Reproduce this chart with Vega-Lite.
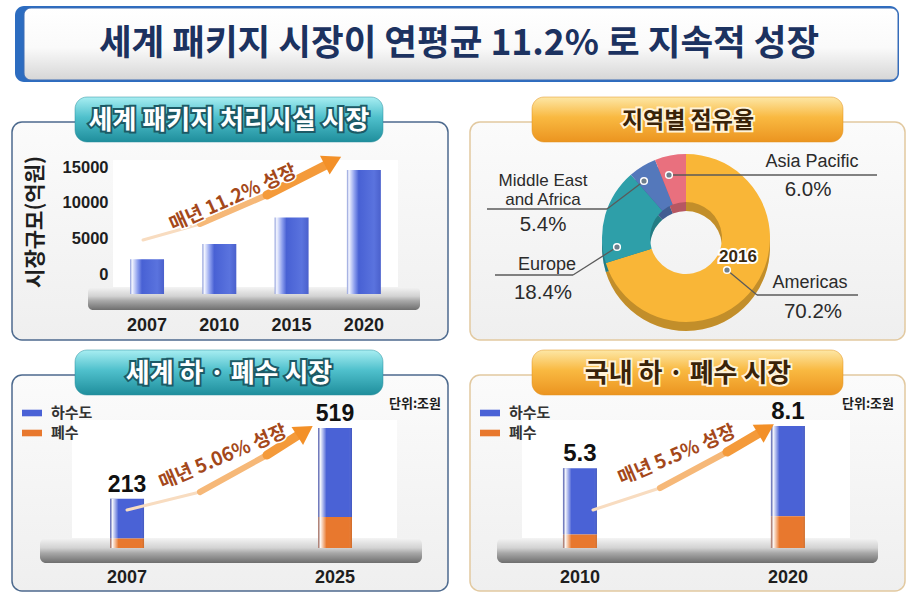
{
"$schema":"https://vega.github.io/schema/vega-lite/v6.json",
"padding":0,
"spacing":0,
"background":"#ffffff",
"config":{"view":{"stroke":null},"concat":{"spacing":0}},
"resolve":{"scale":{"color":"independent"},"legend":{"color":"independent"}},
"datasets":{
 "packaged":[{"year":"2007","market":2200},{"year":"2010","market":4300},{"year":"2015","market":8000},{"year":"2020","market":14600}],
 "regions":[{"region":"Americas","share":0.702},{"region":"Europe","share":0.184},{"region":"Middle East and Africa","share":0.054},{"region":"Asia Pacific","share":0.06}],
 "globalWater":[{"year":"2007","type":"하수도","value":172},{"year":"2007","type":"폐수","value":41},{"year":"2025","type":"하수도","value":385},{"year":"2025","type":"폐수","value":134}],
 "domesticWater":[{"year":"2010","type":"하수도","value":4.4},{"year":"2010","type":"폐수","value":0.9},{"year":"2020","type":"하수도","value":6.0},{"year":"2020","type":"폐수","value":2.1}]
},
"vconcat":[
 {
  "width":918,"height":92,
  "data":{"values":[{}]},
  "layer":[
   {"mark":{"type":"rect","cornerRadius":9,"fill":"#2c6cc0"},"encoding":{"x":{"datum":15,"type":"quantitative","scale":{"domain":[0,918],"nice":false,"zero":false},"axis":null},"x2":{"datum":899},"y":{"datum":6,"type":"quantitative","scale":{"domain":[0,92],"reverse":true,"nice":false,"zero":false},"axis":null},"y2":{"datum":82}}},
   {"mark":{"type":"rect","cornerRadius":7,"stroke":"#3d6db5","strokeWidth":1,"fill":{"gradient":"linear","x1":0,"y1":0,"x2":0,"y2":1,"stops":[{"offset":0,"color":"#ffffff"},{"offset":0.55,"color":"#fafafa"},{"offset":1,"color":"#d6d6d6"}]}},"encoding":{"x":{"datum":24,"type":"quantitative","scale":{"domain":[0,918],"nice":false,"zero":false},"axis":null},"x2":{"datum":898},"y":{"datum":8,"type":"quantitative","scale":{"domain":[0,92],"reverse":true,"nice":false,"zero":false},"axis":null},"y2":{"datum":80}}},
   {"mark":{"type":"text","font":"Noto Sans CJK KR","fontSize":35.5,"fontWeight":"bold","color":"#1c3260","align":"center","baseline":"middle"},"encoding":{"x":{"datum":459,"type":"quantitative","scale":{"domain":[0,918],"nice":false,"zero":false},"axis":null},"y":{"datum":44,"type":"quantitative","scale":{"domain":[0,92],"reverse":true,"nice":false,"zero":false},"axis":null},"text":{"value":"세계 패키지 시장이 연평균 11.2% 로 지속적 성장"}}}
  ]
 },
 {
  "resolve":{"scale":{"color":"independent"},"legend":{"color":"independent"}},
  "hconcat":[
   {
    "width":459,"height":250,
    "layer":[
     {"data":{"values":[{}]},"layer":[
      {"mark":{"type":"rect","cornerRadius":10,"stroke":"#4d6a8e","strokeWidth":1.5,"fill":{"gradient":"linear","x1":0,"y1":0,"x2":0,"y2":1,"stops":[{"offset":0,"color":"#fbfbfb"},{"offset":1,"color":"#efefef"}]}},"encoding":{"x":{"datum":12,"type":"quantitative","scale":{"domain":[0,459],"nice":false,"zero":false},"axis":null},"x2":{"datum":448},"y":{"datum":30,"type":"quantitative","scale":{"domain":[0,250],"reverse":true,"nice":false,"zero":false},"axis":null},"y2":{"datum":248}}},
      {"mark":{"type":"rect","cornerRadius":12,"stroke":"#2a8f9c","strokeWidth":0.5,"fill":{"gradient":"linear","x1":0,"y1":0,"x2":0,"y2":1,"stops":[{"offset":0,"color":"#a8eef2"},{"offset":0.45,"color":"#4fc0cc"},{"offset":1,"color":"#1f8e9c"}]}},"encoding":{"x":{"datum":75,"type":"quantitative","scale":{"domain":[0,459],"nice":false,"zero":false},"axis":null},"x2":{"datum":383},"y":{"datum":5,"type":"quantitative","scale":{"domain":[0,250],"reverse":true,"nice":false,"zero":false},"axis":null},"y2":{"datum":50}}},
      {"mark":{"type":"text","font":"Noto Sans CJK KR","fontSize":26,"fontWeight":"bold","color":"#1c5a66","stroke":"#1c5a66","strokeWidth":4,"align":"center","baseline":"middle"},"encoding":{"x":{"datum":229,"type":"quantitative","scale":{"domain":[0,459],"nice":false,"zero":false},"axis":null},"y":{"datum":29,"type":"quantitative","scale":{"domain":[0,250],"reverse":true,"nice":false,"zero":false},"axis":null},"text":{"value":"세계 패키지 처리시설 시장"}}},
      {"mark":{"type":"text","font":"Noto Sans CJK KR","fontSize":26,"fontWeight":"bold","color":"#ffffff","align":"center","baseline":"middle"},"encoding":{"x":{"datum":229,"type":"quantitative","scale":{"domain":[0,459],"nice":false,"zero":false},"axis":null},"y":{"datum":29,"type":"quantitative","scale":{"domain":[0,250],"reverse":true,"nice":false,"zero":false},"axis":null},"text":{"value":"세계 패키지 처리시설 시장"}}},
      {"mark":{"type":"rect","fill":"#ffffff"},"encoding":{"x":{"datum":113,"type":"quantitative","scale":{"domain":[0,459],"nice":false,"zero":false},"axis":null},"x2":{"datum":398},"y":{"datum":68,"type":"quantitative","scale":{"domain":[0,250],"reverse":true,"nice":false,"zero":false},"axis":null},"y2":{"datum":203}}},
      {"mark":{"type":"rect","cornerRadius":5,"fill":{"gradient":"linear","x1":0,"y1":0,"x2":0,"y2":1,"stops":[{"offset":0,"color":"#f4f4f4"},{"offset":0.4,"color":"#d2d2d2"},{"offset":0.6,"color":"#a8a8a8"},{"offset":1,"color":"#6e6e6e"}]}},"encoding":{"x":{"datum":88,"type":"quantitative","scale":{"domain":[0,459],"nice":false,"zero":false},"axis":null},"x2":{"datum":420},"y":{"datum":195,"type":"quantitative","scale":{"domain":[0,250],"reverse":true,"nice":false,"zero":false},"axis":null},"y2":{"datum":218}}},
      {"mark":{"type":"text","font":"Noto Sans CJK KR","fontSize":21,"fontWeight":"bold","color":"#1e1e1e","angle":270,"align":"center","baseline":"middle"},"encoding":{"x":{"datum":36,"type":"quantitative","scale":{"domain":[0,459],"nice":false,"zero":false},"axis":null},"y":{"datum":130,"type":"quantitative","scale":{"domain":[0,250],"reverse":true,"nice":false,"zero":false},"axis":null},"text":{"value":"시장규모(억원)"}}}
     ]},
     {"data":{"name":"packaged"},
      "mark":{"type":"bar","fill":{"gradient":"linear","x1":0,"y1":0,"x2":1,"y2":0,"stops":[{"offset":0,"color":"#8797d8"},{"offset":0.06,"color":"#f4f6ff"},{"offset":0.22,"color":"#8ea0ee"},{"offset":0.35,"color":"#4861d4"},{"offset":0.8,"color":"#5a73de"},{"offset":1,"color":"#4a60cc"}]}},
      "encoding":{
       "x":{"field":"year","type":"ordinal","scale":{"range":[95,400],"paddingInner":0.53,"paddingOuter":0.375,"align":0.647},"axis":{"orient":"bottom","offset":-28,"zindex":1,"labelPadding":2,"domain":false,"ticks":false,"grid":false,"labelAngle":0,"labelFont":"Liberation Sans","labelFontSize":18,"labelFontWeight":"bold","labelColor":"#1e1e1e","title":null}},
       "y":{"field":"market","type":"quantitative","scale":{"domain":[-9306,25417],"nice":false,"zero":false},"axis":{"orient":"left","offset":-111,"zindex":1,"values":[0,5000,10000,15000],"format":"d","domain":false,"ticks":false,"grid":false,"labelPadding":3,"labelFont":"Liberation Sans","labelFontSize":16.5,"labelFontWeight":"bold","labelColor":"#1e1e1e","title":null}},
       "y2":{"datum":-2640}
      }
     },
     {"data":{"values":[{}]},"layer":[
      {"mark":{"type":"rule","color":"#f8dcc0","strokeWidth":3,"strokeCap":"round"},"encoding":{"x":{"datum":143,"type":"quantitative","scale":{"domain":[0,459],"nice":false,"zero":false},"axis":null},"y":{"datum":148,"type":"quantitative","scale":{"domain":[0,250],"reverse":true,"nice":false,"zero":false},"axis":null},"x2":{"datum":200},"y2":{"datum":132}}},
      {"mark":{"type":"rule","color":"#f6b878","strokeWidth":6,"strokeCap":"round"},"encoding":{"x":{"datum":200,"type":"quantitative","scale":{"domain":[0,459],"nice":false,"zero":false},"axis":null},"y":{"datum":132,"type":"quantitative","scale":{"domain":[0,250],"reverse":true,"nice":false,"zero":false},"axis":null},"x2":{"datum":267},"y2":{"datum":103}}},
      {"mark":{"type":"rule","color":"#f49a3a","strokeWidth":9,"strokeCap":"round"},"encoding":{"x":{"datum":267,"type":"quantitative","scale":{"domain":[0,459],"nice":false,"zero":false},"axis":null},"y":{"datum":103,"type":"quantitative","scale":{"domain":[0,250],"reverse":true,"nice":false,"zero":false},"axis":null},"x2":{"datum":328},"y2":{"datum":72}}},
      {"mark":{"type":"point","shape":"triangle-up","size":450,"filled":true,"color":"#f39028","opacity":1,"angle":63},"encoding":{"x":{"datum":333,"type":"quantitative","scale":{"domain":[0,459],"nice":false,"zero":false},"axis":null},"y":{"datum":69,"type":"quantitative","scale":{"domain":[0,250],"reverse":true,"nice":false,"zero":false},"axis":null}}},
      {"mark":{"type":"text","font":"Noto Sans CJK KR","fontSize":19,"fontWeight":"bold","color":"#ffffff","stroke":"#ffffff","strokeWidth":3,"angle":-24,"align":"center","baseline":"middle"},"encoding":{"x":{"datum":233,"type":"quantitative","scale":{"domain":[0,459],"nice":false,"zero":false},"axis":null},"y":{"datum":106,"type":"quantitative","scale":{"domain":[0,250],"reverse":true,"nice":false,"zero":false},"axis":null},"text":{"value":"매년 11.2% 성장"}}},
      {"mark":{"type":"text","font":"Noto Sans CJK KR","fontSize":19,"fontWeight":"bold","color":"#a4481a","angle":-24,"align":"center","baseline":"middle"},"encoding":{"x":{"datum":233,"type":"quantitative","scale":{"domain":[0,459],"nice":false,"zero":false},"axis":null},"y":{"datum":106,"type":"quantitative","scale":{"domain":[0,250],"reverse":true,"nice":false,"zero":false},"axis":null},"text":{"value":"매년 11.2% 성장"}}}
     ]}
    ],
    "resolve":{"scale":{"x":"independent","y":"independent"}}
   },
   {
    "width":459,"height":250,
    "layer":[
     {"data":{"values":[{}]},"layer":[
      {"mark":{"type":"rect","cornerRadius":10,"stroke":"#e2c9a0","strokeWidth":1.5,"fill":{"gradient":"linear","x1":0,"y1":0,"x2":0,"y2":1,"stops":[{"offset":0,"color":"#fbfbfb"},{"offset":1,"color":"#efefef"}]}},"encoding":{"x":{"datum":11,"type":"quantitative","scale":{"domain":[0,459],"nice":false,"zero":false},"axis":null},"x2":{"datum":446},"y":{"datum":30,"type":"quantitative","scale":{"domain":[0,250],"reverse":true,"nice":false,"zero":false},"axis":null},"y2":{"datum":248}}},
      {"mark":{"type":"rect","cornerRadius":12,"stroke":"#e0901c","strokeWidth":0.5,"fill":{"gradient":"linear","x1":0,"y1":0,"x2":0,"y2":1,"stops":[{"offset":0,"color":"#fde7a6"},{"offset":0.45,"color":"#f9b941"},{"offset":1,"color":"#eb9420"}]}},"encoding":{"x":{"datum":73,"type":"quantitative","scale":{"domain":[0,459],"nice":false,"zero":false},"axis":null},"x2":{"datum":384},"y":{"datum":5,"type":"quantitative","scale":{"domain":[0,250],"reverse":true,"nice":false,"zero":false},"axis":null},"y2":{"datum":50}}},
      {"mark":{"type":"text","font":"Noto Sans CJK KR","fontSize":23,"fontWeight":"bold","color":"#ffffff","stroke":"#fff3d8","strokeWidth":4,"align":"center","baseline":"middle"},"encoding":{"x":{"datum":229,"type":"quantitative","scale":{"domain":[0,459],"nice":false,"zero":false},"axis":null},"y":{"datum":29,"type":"quantitative","scale":{"domain":[0,250],"reverse":true,"nice":false,"zero":false},"axis":null},"text":{"value":"지역별 점유율"}}},
      {"mark":{"type":"text","font":"Noto Sans CJK KR","fontSize":23,"fontWeight":"bold","color":"#3a2308","align":"center","baseline":"middle"},"encoding":{"x":{"datum":229,"type":"quantitative","scale":{"domain":[0,459],"nice":false,"zero":false},"axis":null},"y":{"datum":29,"type":"quantitative","scale":{"domain":[0,250],"reverse":true,"nice":false,"zero":false},"axis":null},"text":{"value":"지역별 점유율"}}}
     ]},
     {"data":{"name":"regions"},
      "transform":[{"window":[{"op":"row_number","as":"ord"}]}],
      "layer":[
       {"mark":{"type":"arc","outerRadius":84,"innerRadius":36,"yOffset":9},"encoding":{"x":{"datum":227,"type":"quantitative","scale":{"domain":[0,459],"nice":false,"zero":false},"axis":null},"y":{"datum":146,"type":"quantitative","scale":{"domain":[0,250],"reverse":true,"nice":false,"zero":false},"axis":null},"theta":{"field":"share","type":"quantitative"},"order":{"field":"ord","type":"quantitative"},"color":{"field":"region","type":"nominal","scale":{"domain":["Americas","Europe","Middle East and Africa","Asia Pacific"],"range":["#f9b637","#2e9fa9","#5478bb","#e9707e"]},"legend":null}}},
       {"mark":{"type":"arc","outerRadius":84,"innerRadius":36,"yOffset":9,"fill":"#000000","opacity":0.22},"encoding":{"x":{"datum":227,"type":"quantitative","scale":{"domain":[0,459],"nice":false,"zero":false},"axis":null},"y":{"datum":146,"type":"quantitative","scale":{"domain":[0,250],"reverse":true,"nice":false,"zero":false},"axis":null},"theta":{"field":"share","type":"quantitative"},"order":{"field":"ord","type":"quantitative"}}},
       {"mark":{"type":"arc","outerRadius":84,"innerRadius":36},"encoding":{"x":{"datum":227,"type":"quantitative","scale":{"domain":[0,459],"nice":false,"zero":false},"axis":null},"y":{"datum":146,"type":"quantitative","scale":{"domain":[0,250],"reverse":true,"nice":false,"zero":false},"axis":null},"theta":{"field":"share","type":"quantitative"},"order":{"field":"ord","type":"quantitative"},"color":{"field":"region","type":"nominal","legend":null}}},
       {"transform":[{"filter":"datum.region === 'Asia Pacific'"}],"layer":[
        {"mark":{"type":"text","font":"Liberation Sans","fontSize":18,"color":"#2b2b2b","align":"center","baseline":"middle"},"encoding":{"x":{"datum":353,"type":"quantitative","scale":{"domain":[0,459],"nice":false,"zero":false},"axis":null},"y":{"datum":70,"type":"quantitative","scale":{"domain":[0,250],"reverse":true,"nice":false,"zero":false},"axis":null},"text":{"field":"region"}}},
        {"mark":{"type":"text","font":"Liberation Sans","fontSize":20.5,"color":"#2b2b2b","align":"center","baseline":"middle"},"encoding":{"x":{"datum":349,"type":"quantitative","scale":{"domain":[0,459],"nice":false,"zero":false},"axis":null},"y":{"datum":98,"type":"quantitative","scale":{"domain":[0,250],"reverse":true,"nice":false,"zero":false},"axis":null},"text":{"field":"share","type":"quantitative","format":".1%"}}}
       ]},
       {"transform":[{"filter":"datum.region === 'Middle East and Africa'"}],"layer":[
        {"mark":{"type":"text","font":"Liberation Sans","fontSize":17,"color":"#2b2b2b","align":"center","baseline":"middle","lineHeight":19},"encoding":{"x":{"datum":84,"type":"quantitative","scale":{"domain":[0,459],"nice":false,"zero":false},"axis":null},"y":{"datum":89,"type":"quantitative","scale":{"domain":[0,250],"reverse":true,"nice":false,"zero":false},"axis":null},"text":{"value":["Middle East","and Africa"]}}},
        {"mark":{"type":"text","font":"Liberation Sans","fontSize":20.5,"color":"#2b2b2b","align":"center","baseline":"middle"},"encoding":{"x":{"datum":84,"type":"quantitative","scale":{"domain":[0,459],"nice":false,"zero":false},"axis":null},"y":{"datum":133,"type":"quantitative","scale":{"domain":[0,250],"reverse":true,"nice":false,"zero":false},"axis":null},"text":{"field":"share","type":"quantitative","format":".1%"}}}
       ]},
       {"transform":[{"filter":"datum.region === 'Europe'"}],"layer":[
        {"mark":{"type":"text","font":"Liberation Sans","fontSize":18,"color":"#2b2b2b","align":"center","baseline":"middle"},"encoding":{"x":{"datum":88,"type":"quantitative","scale":{"domain":[0,459],"nice":false,"zero":false},"axis":null},"y":{"datum":173,"type":"quantitative","scale":{"domain":[0,250],"reverse":true,"nice":false,"zero":false},"axis":null},"text":{"field":"region"}}},
        {"mark":{"type":"text","font":"Liberation Sans","fontSize":20.5,"color":"#2b2b2b","align":"center","baseline":"middle"},"encoding":{"x":{"datum":84,"type":"quantitative","scale":{"domain":[0,459],"nice":false,"zero":false},"axis":null},"y":{"datum":201,"type":"quantitative","scale":{"domain":[0,250],"reverse":true,"nice":false,"zero":false},"axis":null},"text":{"field":"share","type":"quantitative","format":".1%"}}}
       ]},
       {"transform":[{"filter":"datum.region === 'Americas'"}],"layer":[
        {"mark":{"type":"text","font":"Liberation Sans","fontSize":18,"color":"#2b2b2b","align":"center","baseline":"middle"},"encoding":{"x":{"datum":351,"type":"quantitative","scale":{"domain":[0,459],"nice":false,"zero":false},"axis":null},"y":{"datum":191,"type":"quantitative","scale":{"domain":[0,250],"reverse":true,"nice":false,"zero":false},"axis":null},"text":{"field":"region"}}},
        {"mark":{"type":"text","font":"Liberation Sans","fontSize":20.5,"color":"#2b2b2b","align":"center","baseline":"middle"},"encoding":{"x":{"datum":354,"type":"quantitative","scale":{"domain":[0,459],"nice":false,"zero":false},"axis":null},"y":{"datum":220,"type":"quantitative","scale":{"domain":[0,250],"reverse":true,"nice":false,"zero":false},"axis":null},"text":{"field":"share","type":"quantitative","format":".1%"}}}
       ]}
      ]
     },
     {"data":{"values":[{}]},"layer":[
      {"mark":{"type":"rule","color":"#5a5a5a","strokeWidth":1.3},"encoding":{"x":{"datum":210,"type":"quantitative","scale":{"domain":[0,459],"nice":false,"zero":false},"axis":null},"y":{"datum":83,"type":"quantitative","scale":{"domain":[0,250],"reverse":true,"nice":false,"zero":false},"axis":null},"x2":{"datum":418},"y2":{"datum":83}}},
      {"mark":{"type":"rule","color":"#5a5a5a","strokeWidth":1.3},"encoding":{"x":{"datum":185,"type":"quantitative","scale":{"domain":[0,459],"nice":false,"zero":false},"axis":null},"y":{"datum":89,"type":"quantitative","scale":{"domain":[0,250],"reverse":true,"nice":false,"zero":false},"axis":null},"x2":{"datum":148},"y2":{"datum":117}}},
      {"mark":{"type":"rule","color":"#5a5a5a","strokeWidth":1.3},"encoding":{"x":{"datum":148,"type":"quantitative","scale":{"domain":[0,459],"nice":false,"zero":false},"axis":null},"y":{"datum":117,"type":"quantitative","scale":{"domain":[0,250],"reverse":true,"nice":false,"zero":false},"axis":null},"x2":{"datum":28},"y2":{"datum":117}}},
      {"mark":{"type":"rule","color":"#5a5a5a","strokeWidth":1.3},"encoding":{"x":{"datum":158,"type":"quantitative","scale":{"domain":[0,459],"nice":false,"zero":false},"axis":null},"y":{"datum":155,"type":"quantitative","scale":{"domain":[0,250],"reverse":true,"nice":false,"zero":false},"axis":null},"x2":{"datum":114},"y2":{"datum":183}}},
      {"mark":{"type":"rule","color":"#5a5a5a","strokeWidth":1.3},"encoding":{"x":{"datum":114,"type":"quantitative","scale":{"domain":[0,459],"nice":false,"zero":false},"axis":null},"y":{"datum":183,"type":"quantitative","scale":{"domain":[0,250],"reverse":true,"nice":false,"zero":false},"axis":null},"x2":{"datum":36},"y2":{"datum":183}}},
      {"mark":{"type":"rule","color":"#5a5a5a","strokeWidth":1.3},"encoding":{"x":{"datum":268,"type":"quantitative","scale":{"domain":[0,459],"nice":false,"zero":false},"axis":null},"y":{"datum":178,"type":"quantitative","scale":{"domain":[0,250],"reverse":true,"nice":false,"zero":false},"axis":null},"x2":{"datum":298},"y2":{"datum":203}}},
      {"mark":{"type":"rule","color":"#5a5a5a","strokeWidth":1.3},"encoding":{"x":{"datum":298,"type":"quantitative","scale":{"domain":[0,459],"nice":false,"zero":false},"axis":null},"y":{"datum":203,"type":"quantitative","scale":{"domain":[0,250],"reverse":true,"nice":false,"zero":false},"axis":null},"x2":{"datum":399},"y2":{"datum":203}}},
      {"mark":{"type":"point","shape":"circle","size":45,"filled":true,"fill":"#6f7f8c","stroke":"#ffffff","strokeWidth":1.5,"opacity":1},"encoding":{"x":{"datum":210,"type":"quantitative","scale":{"domain":[0,459],"nice":false,"zero":false},"axis":null},"y":{"datum":83,"type":"quantitative","scale":{"domain":[0,250],"reverse":true,"nice":false,"zero":false},"axis":null}}},
      {"mark":{"type":"point","shape":"circle","size":45,"filled":true,"fill":"#6f7f8c","stroke":"#ffffff","strokeWidth":1.5,"opacity":1},"encoding":{"x":{"datum":185,"type":"quantitative","scale":{"domain":[0,459],"nice":false,"zero":false},"axis":null},"y":{"datum":89,"type":"quantitative","scale":{"domain":[0,250],"reverse":true,"nice":false,"zero":false},"axis":null}}},
      {"mark":{"type":"point","shape":"circle","size":45,"filled":true,"fill":"#6f7f8c","stroke":"#ffffff","strokeWidth":1.5,"opacity":1},"encoding":{"x":{"datum":158,"type":"quantitative","scale":{"domain":[0,459],"nice":false,"zero":false},"axis":null},"y":{"datum":155,"type":"quantitative","scale":{"domain":[0,250],"reverse":true,"nice":false,"zero":false},"axis":null}}},
      {"mark":{"type":"point","shape":"circle","size":45,"filled":true,"fill":"#6f7f8c","stroke":"#ffffff","strokeWidth":1.5,"opacity":1},"encoding":{"x":{"datum":268,"type":"quantitative","scale":{"domain":[0,459],"nice":false,"zero":false},"axis":null},"y":{"datum":178,"type":"quantitative","scale":{"domain":[0,250],"reverse":true,"nice":false,"zero":false},"axis":null}}},
      {"mark":{"type":"text","font":"Liberation Sans","fontSize":17,"fontWeight":"bold","color":"#ffffff","stroke":"#ffffff","strokeWidth":4,"align":"center","baseline":"middle"},"encoding":{"x":{"datum":279,"type":"quantitative","scale":{"domain":[0,459],"nice":false,"zero":false},"axis":null},"y":{"datum":165,"type":"quantitative","scale":{"domain":[0,250],"reverse":true,"nice":false,"zero":false},"axis":null},"text":{"value":"2016"}}},
      {"mark":{"type":"text","font":"Liberation Sans","fontSize":17,"fontWeight":"bold","color":"#3a2a10","align":"center","baseline":"middle"},"encoding":{"x":{"datum":279,"type":"quantitative","scale":{"domain":[0,459],"nice":false,"zero":false},"axis":null},"y":{"datum":165,"type":"quantitative","scale":{"domain":[0,250],"reverse":true,"nice":false,"zero":false},"axis":null},"text":{"value":"2016"}}}
     ]}
    ]
   }
  ],
  "spacing":0,
  "bounds":"flush"
 },
 {
  "resolve":{"scale":{"color":"independent"},"legend":{"color":"independent"}},
  "hconcat":[
   {
    "width":459,"height":251,
    "layer":[
     {"data":{"values":[{}]},"layer":[
      {"mark":{"type":"rect","cornerRadius":10,"stroke":"#4d6a8e","strokeWidth":1.5,"fill":{"gradient":"linear","x1":0,"y1":0,"x2":0,"y2":1,"stops":[{"offset":0,"color":"#fbfbfb"},{"offset":1,"color":"#efefef"}]}},"encoding":{"x":{"datum":12,"type":"quantitative","scale":{"domain":[0,459],"nice":false,"zero":false},"axis":null},"x2":{"datum":448},"y":{"datum":33,"type":"quantitative","scale":{"domain":[0,251],"reverse":true,"nice":false,"zero":false},"axis":null},"y2":{"datum":249}}},
      {"mark":{"type":"rect","cornerRadius":12,"stroke":"#2a8f9c","strokeWidth":0.5,"fill":{"gradient":"linear","x1":0,"y1":0,"x2":0,"y2":1,"stops":[{"offset":0,"color":"#a8eef2"},{"offset":0.45,"color":"#4fc0cc"},{"offset":1,"color":"#1f8e9c"}]}},"encoding":{"x":{"datum":75,"type":"quantitative","scale":{"domain":[0,459],"nice":false,"zero":false},"axis":null},"x2":{"datum":383},"y":{"datum":8,"type":"quantitative","scale":{"domain":[0,251],"reverse":true,"nice":false,"zero":false},"axis":null},"y2":{"datum":53}}},
      {"mark":{"type":"text","font":"Noto Sans CJK KR","fontSize":26,"fontWeight":"bold","color":"#1c5a66","stroke":"#1c5a66","strokeWidth":4,"align":"center","baseline":"middle"},"encoding":{"x":{"datum":229,"type":"quantitative","scale":{"domain":[0,459],"nice":false,"zero":false},"axis":null},"y":{"datum":32,"type":"quantitative","scale":{"domain":[0,251],"reverse":true,"nice":false,"zero":false},"axis":null},"text":{"value":"세계 하 · 폐수 시장"}}},
      {"mark":{"type":"text","font":"Noto Sans CJK KR","fontSize":26,"fontWeight":"bold","color":"#ffffff","align":"center","baseline":"middle"},"encoding":{"x":{"datum":229,"type":"quantitative","scale":{"domain":[0,459],"nice":false,"zero":false},"axis":null},"y":{"datum":32,"type":"quantitative","scale":{"domain":[0,251],"reverse":true,"nice":false,"zero":false},"axis":null},"text":{"value":"세계 하 · 폐수 시장"}}},
      {"mark":{"type":"rect","fill":"#ffffff"},"encoding":{"x":{"datum":72,"type":"quantitative","scale":{"domain":[0,459],"nice":false,"zero":false},"axis":null},"x2":{"datum":397},"y":{"datum":78,"type":"quantitative","scale":{"domain":[0,251],"reverse":true,"nice":false,"zero":false},"axis":null},"y2":{"datum":196}}},
      {"mark":{"type":"rect","cornerRadius":6,"fill":{"gradient":"linear","x1":0,"y1":0,"x2":0,"y2":1,"stops":[{"offset":0,"color":"#f4f4f4"},{"offset":0.4,"color":"#d2d2d2"},{"offset":0.6,"color":"#a8a8a8"},{"offset":1,"color":"#6e6e6e"}]}},"encoding":{"x":{"datum":40,"type":"quantitative","scale":{"domain":[0,459],"nice":false,"zero":false},"axis":null},"x2":{"datum":422},"y":{"datum":196,"type":"quantitative","scale":{"domain":[0,251],"reverse":true,"nice":false,"zero":false},"axis":null},"y2":{"datum":221}}},
      {"mark":{"type":"text","font":"Noto Sans CJK KR","fontSize":13,"fontWeight":"bold","color":"#1e1e1e","align":"center","baseline":"middle"},"encoding":{"x":{"datum":415,"type":"quantitative","scale":{"domain":[0,459],"nice":false,"zero":false},"axis":null},"y":{"datum":62,"type":"quantitative","scale":{"domain":[0,251],"reverse":true,"nice":false,"zero":false},"axis":null},"text":{"value":"단위:조원"}}}
     ]},
     {"data":{"name":"globalWater"},"layer":[
      {"mark":{"type":"bar"},"encoding":{
       "x":{"field":"year","type":"ordinal","scale":{"paddingInner":0.8365,"paddingOuter":0.5218,"align":0.507},"axis":{"orient":"bottom","offset":-27,"zindex":1,"labelPadding":2,"domain":false,"ticks":false,"grid":false,"labelAngle":0,"labelFont":"Liberation Sans","labelFontSize":18,"labelFontWeight":"bold","labelColor":"#1e1e1e","title":null}},
       "y":{"field":"value","type":"quantitative","stack":"zero","scale":{"domain":[-194.6,890.9],"nice":false,"zero":false},"axis":null},
       "color":{"field":"type","type":"nominal","scale":{"domain":["하수도","폐수"],"range":["#4a62d6","#e8782e"]},"legend":{"orient":"none","legendX":22,"legendY":61,"zindex":1,"title":null,"symbolType":"M-1,-0.33H1V0.33H-1Z","symbolSize":400,"symbolStrokeWidth":0,"labelFont":"Noto Sans CJK KR","labelFontSize":15,"labelFontWeight":"bold","labelColor":"#333333","labelOffset":9,"rowPadding":2}},
       "order":{"field":"type","sort":"ascending"}
      }},
      {"mark":{"type":"bar","fill":{"gradient":"linear","x1":0,"y1":0,"x2":1,"y2":0,"stops":[{"offset":0,"color":"rgba(110,110,150,0.5)"},{"offset":0.07,"color":"rgba(255,255,255,0.95)"},{"offset":0.25,"color":"rgba(255,255,255,0)"},{"offset":0.9,"color":"rgba(255,255,255,0)"},{"offset":1,"color":"rgba(0,0,0,0.12)"}]}},"encoding":{"x":{"field":"year","type":"ordinal"},"y":{"aggregate":"sum","field":"value","type":"quantitative"}}},
      {"mark":{"type":"text","baseline":"bottom","dy":-2,"font":"Liberation Sans","fontSize":23,"fontWeight":"bold","color":"#111111"},"encoding":{"x":{"field":"year","type":"ordinal"},"y":{"aggregate":"sum","field":"value","type":"quantitative"},"text":{"aggregate":"sum","field":"value","type":"quantitative","format":"d"}}}
     ]},
     {"data":{"values":[{}]},"layer":[
      {"mark":{"type":"rule","color":"#f8dcc0","strokeWidth":3,"strokeCap":"round"},"encoding":{"x":{"datum":127,"type":"quantitative","scale":{"domain":[0,459],"nice":false,"zero":false},"axis":null},"y":{"datum":168,"type":"quantitative","scale":{"domain":[0,251],"reverse":true,"nice":false,"zero":false},"axis":null},"x2":{"datum":200},"y2":{"datum":150}}},
      {"mark":{"type":"rule","color":"#f6b878","strokeWidth":6,"strokeCap":"round"},"encoding":{"x":{"datum":200,"type":"quantitative","scale":{"domain":[0,459],"nice":false,"zero":false},"axis":null},"y":{"datum":150,"type":"quantitative","scale":{"domain":[0,251],"reverse":true,"nice":false,"zero":false},"axis":null},"x2":{"datum":267},"y2":{"datum":113}}},
      {"mark":{"type":"rule","color":"#f49a3a","strokeWidth":9,"strokeCap":"round"},"encoding":{"x":{"datum":267,"type":"quantitative","scale":{"domain":[0,459],"nice":false,"zero":false},"axis":null},"y":{"datum":113,"type":"quantitative","scale":{"domain":[0,251],"reverse":true,"nice":false,"zero":false},"axis":null},"x2":{"datum":300},"y2":{"datum":92}}},
      {"mark":{"type":"point","shape":"triangle-up","size":450,"filled":true,"color":"#f39028","opacity":1,"angle":57},"encoding":{"x":{"datum":305,"type":"quantitative","scale":{"domain":[0,459],"nice":false,"zero":false},"axis":null},"y":{"datum":89,"type":"quantitative","scale":{"domain":[0,251],"reverse":true,"nice":false,"zero":false},"axis":null}}},
      {"mark":{"type":"text","font":"Noto Sans CJK KR","fontSize":19,"fontWeight":"bold","color":"#ffffff","stroke":"#ffffff","strokeWidth":3,"angle":-23,"align":"center","baseline":"middle"},"encoding":{"x":{"datum":223,"type":"quantitative","scale":{"domain":[0,459],"nice":false,"zero":false},"axis":null},"y":{"datum":115,"type":"quantitative","scale":{"domain":[0,251],"reverse":true,"nice":false,"zero":false},"axis":null},"text":{"value":"매년 5.06% 성장"}}},
      {"mark":{"type":"text","font":"Noto Sans CJK KR","fontSize":19,"fontWeight":"bold","color":"#a4481a","angle":-23,"align":"center","baseline":"middle"},"encoding":{"x":{"datum":223,"type":"quantitative","scale":{"domain":[0,459],"nice":false,"zero":false},"axis":null},"y":{"datum":115,"type":"quantitative","scale":{"domain":[0,251],"reverse":true,"nice":false,"zero":false},"axis":null},"text":{"value":"매년 5.06% 성장"}}}
     ]}
    ],
    "resolve":{"scale":{"x":"independent","y":"independent"}}
   },
   {
    "width":459,"height":251,
    "layer":[
     {"data":{"values":[{}]},"layer":[
      {"mark":{"type":"rect","cornerRadius":10,"stroke":"#e2c9a0","strokeWidth":1.5,"fill":{"gradient":"linear","x1":0,"y1":0,"x2":0,"y2":1,"stops":[{"offset":0,"color":"#fbfbfb"},{"offset":1,"color":"#efefef"}]}},"encoding":{"x":{"datum":11,"type":"quantitative","scale":{"domain":[0,459],"nice":false,"zero":false},"axis":null},"x2":{"datum":446},"y":{"datum":33,"type":"quantitative","scale":{"domain":[0,251],"reverse":true,"nice":false,"zero":false},"axis":null},"y2":{"datum":249}}},
      {"mark":{"type":"rect","cornerRadius":12,"stroke":"#e0901c","strokeWidth":0.5,"fill":{"gradient":"linear","x1":0,"y1":0,"x2":0,"y2":1,"stops":[{"offset":0,"color":"#fde7a6"},{"offset":0.45,"color":"#f9b941"},{"offset":1,"color":"#eb9420"}]}},"encoding":{"x":{"datum":73,"type":"quantitative","scale":{"domain":[0,459],"nice":false,"zero":false},"axis":null},"x2":{"datum":384},"y":{"datum":8,"type":"quantitative","scale":{"domain":[0,251],"reverse":true,"nice":false,"zero":false},"axis":null},"y2":{"datum":53}}},
      {"mark":{"type":"text","font":"Noto Sans CJK KR","fontSize":26,"fontWeight":"bold","color":"#ffffff","stroke":"#fff3d8","strokeWidth":4,"align":"center","baseline":"middle"},"encoding":{"x":{"datum":229,"type":"quantitative","scale":{"domain":[0,459],"nice":false,"zero":false},"axis":null},"y":{"datum":32,"type":"quantitative","scale":{"domain":[0,251],"reverse":true,"nice":false,"zero":false},"axis":null},"text":{"value":"국내 하 · 폐수 시장"}}},
      {"mark":{"type":"text","font":"Noto Sans CJK KR","fontSize":26,"fontWeight":"bold","color":"#3a2308","align":"center","baseline":"middle"},"encoding":{"x":{"datum":229,"type":"quantitative","scale":{"domain":[0,459],"nice":false,"zero":false},"axis":null},"y":{"datum":32,"type":"quantitative","scale":{"domain":[0,251],"reverse":true,"nice":false,"zero":false},"axis":null},"text":{"value":"국내 하 · 폐수 시장"}}},
      {"mark":{"type":"rect","fill":"#ffffff"},"encoding":{"x":{"datum":63,"type":"quantitative","scale":{"domain":[0,459],"nice":false,"zero":false},"axis":null},"x2":{"datum":391},"y":{"datum":78,"type":"quantitative","scale":{"domain":[0,251],"reverse":true,"nice":false,"zero":false},"axis":null},"y2":{"datum":196}}},
      {"mark":{"type":"rect","cornerRadius":6,"fill":{"gradient":"linear","x1":0,"y1":0,"x2":0,"y2":1,"stops":[{"offset":0,"color":"#f4f4f4"},{"offset":0.4,"color":"#d2d2d2"},{"offset":0.6,"color":"#a8a8a8"},{"offset":1,"color":"#6e6e6e"}]}},"encoding":{"x":{"datum":38,"type":"quantitative","scale":{"domain":[0,459],"nice":false,"zero":false},"axis":null},"x2":{"datum":419},"y":{"datum":196,"type":"quantitative","scale":{"domain":[0,251],"reverse":true,"nice":false,"zero":false},"axis":null},"y2":{"datum":221}}},
      {"mark":{"type":"text","font":"Noto Sans CJK KR","fontSize":13,"fontWeight":"bold","color":"#1e1e1e","align":"center","baseline":"middle"},"encoding":{"x":{"datum":409,"type":"quantitative","scale":{"domain":[0,459],"nice":false,"zero":false},"axis":null},"y":{"datum":62,"type":"quantitative","scale":{"domain":[0,251],"reverse":true,"nice":false,"zero":false},"axis":null},"text":{"value":"단위:조원"}}}
     ]},
     {"data":{"name":"domesticWater"},"layer":[
      {"mark":{"type":"bar"},"encoding":{
       "x":{"field":"year","type":"ordinal","scale":{"paddingInner":0.8365,"paddingOuter":0.5218,"align":0.479},"axis":{"orient":"bottom","offset":-27,"zindex":1,"labelPadding":2,"domain":false,"ticks":false,"grid":false,"labelAngle":0,"labelFont":"Liberation Sans","labelFontSize":18,"labelFontWeight":"bold","labelColor":"#1e1e1e","title":null}},
       "y":{"field":"value","type":"quantitative","stack":"zero","scale":{"domain":[-2.988,13.677],"nice":false,"zero":false},"axis":null},
       "color":{"field":"type","type":"nominal","scale":{"domain":["하수도","폐수"],"range":["#4a62d6","#e8782e"]},"legend":{"orient":"none","legendX":21,"legendY":61,"zindex":1,"title":null,"symbolType":"M-1,-0.33H1V0.33H-1Z","symbolSize":400,"symbolStrokeWidth":0,"labelFont":"Noto Sans CJK KR","labelFontSize":15,"labelFontWeight":"bold","labelColor":"#333333","labelOffset":9,"rowPadding":2}},
       "order":{"field":"type","sort":"ascending"}
      }},
      {"mark":{"type":"bar","fill":{"gradient":"linear","x1":0,"y1":0,"x2":1,"y2":0,"stops":[{"offset":0,"color":"rgba(110,110,150,0.5)"},{"offset":0.07,"color":"rgba(255,255,255,0.95)"},{"offset":0.25,"color":"rgba(255,255,255,0)"},{"offset":0.9,"color":"rgba(255,255,255,0)"},{"offset":1,"color":"rgba(0,0,0,0.12)"}]}},"encoding":{"x":{"field":"year","type":"ordinal"},"y":{"aggregate":"sum","field":"value","type":"quantitative"}}},
      {"mark":{"type":"text","baseline":"bottom","dy":-2,"font":"Liberation Sans","fontSize":24,"fontWeight":"bold","color":"#111111"},"encoding":{"x":{"field":"year","type":"ordinal"},"y":{"aggregate":"sum","field":"value","type":"quantitative"},"text":{"aggregate":"sum","field":"value","type":"quantitative","format":".1f"}}}
     ]},
     {"data":{"values":[{}]},"layer":[
      {"mark":{"type":"rule","color":"#f8dcc0","strokeWidth":3,"strokeCap":"round"},"encoding":{"x":{"datum":134,"type":"quantitative","scale":{"domain":[0,459],"nice":false,"zero":false},"axis":null},"y":{"datum":168,"type":"quantitative","scale":{"domain":[0,251],"reverse":true,"nice":false,"zero":false},"axis":null},"x2":{"datum":201},"y2":{"datum":146}}},
      {"mark":{"type":"rule","color":"#f6b878","strokeWidth":6,"strokeCap":"round"},"encoding":{"x":{"datum":201,"type":"quantitative","scale":{"domain":[0,459],"nice":false,"zero":false},"axis":null},"y":{"datum":146,"type":"quantitative","scale":{"domain":[0,251],"reverse":true,"nice":false,"zero":false},"axis":null},"x2":{"datum":268},"y2":{"datum":110}}},
      {"mark":{"type":"rule","color":"#f49a3a","strokeWidth":9,"strokeCap":"round"},"encoding":{"x":{"datum":268,"type":"quantitative","scale":{"domain":[0,459],"nice":false,"zero":false},"axis":null},"y":{"datum":110,"type":"quantitative","scale":{"domain":[0,251],"reverse":true,"nice":false,"zero":false},"axis":null},"x2":{"datum":302},"y2":{"datum":90}}},
      {"mark":{"type":"point","shape":"triangle-up","size":450,"filled":true,"color":"#f39028","opacity":1,"angle":59},"encoding":{"x":{"datum":307,"type":"quantitative","scale":{"domain":[0,459],"nice":false,"zero":false},"axis":null},"y":{"datum":87,"type":"quantitative","scale":{"domain":[0,251],"reverse":true,"nice":false,"zero":false},"axis":null}}},
      {"mark":{"type":"text","font":"Noto Sans CJK KR","fontSize":19,"fontWeight":"bold","color":"#ffffff","stroke":"#ffffff","strokeWidth":3,"angle":-23,"align":"center","baseline":"middle"},"encoding":{"x":{"datum":218,"type":"quantitative","scale":{"domain":[0,459],"nice":false,"zero":false},"axis":null},"y":{"datum":113,"type":"quantitative","scale":{"domain":[0,251],"reverse":true,"nice":false,"zero":false},"axis":null},"text":{"value":"매년 5.5% 성장"}}},
      {"mark":{"type":"text","font":"Noto Sans CJK KR","fontSize":19,"fontWeight":"bold","color":"#a4481a","angle":-23,"align":"center","baseline":"middle"},"encoding":{"x":{"datum":218,"type":"quantitative","scale":{"domain":[0,459],"nice":false,"zero":false},"axis":null},"y":{"datum":113,"type":"quantitative","scale":{"domain":[0,251],"reverse":true,"nice":false,"zero":false},"axis":null},"text":{"value":"매년 5.5% 성장"}}}
     ]}
    ],
    "resolve":{"scale":{"x":"independent","y":"independent"}}
   }
  ],
  "spacing":0,
  "bounds":"flush"
 }
]
}
